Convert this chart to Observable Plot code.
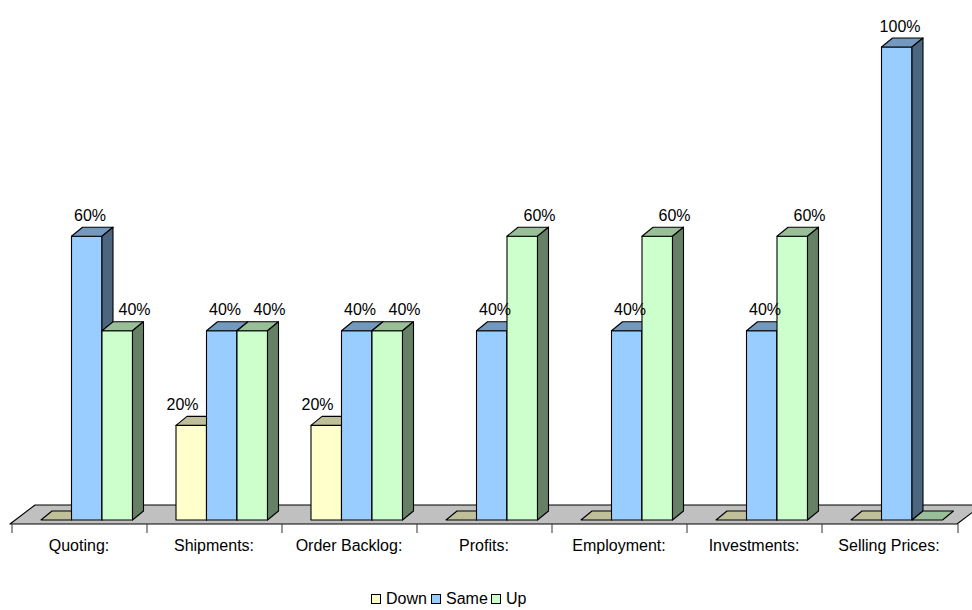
<!DOCTYPE html>
<html><head><meta charset="utf-8">
<script src="https://cdn.jsdelivr.net/npm/d3@7"></script>
<script src="https://cdn.jsdelivr.net/npm/@observablehq/plot@0.6"></script>
<style>
html,body{margin:0;padding:0;background:#fff;overflow:hidden;}
body{font-family:"Liberation Sans",Arial,sans-serif;width:972px;height:610px;}
#legend{display:flex;align-items:center;height:24px;margin-top:2px;padding-left:371px;font-size:16px;color:#000;}
#legend .item{display:flex;align-items:center;width:60px;}
#legend .sw{width:8px;height:8px;border:1px solid #000;margin-right:5px;}
</style></head><body>
<div id="chart"></div>
<div id="legend"></div>
<script>
// ---- data ----
const categories = ["Quoting:", "Shipments:", "Order Backlog:", "Profits:", "Employment:", "Investments:", "Selling Prices:"];
const series = ["Down", "Same", "Up"];
const downValues = [0, 20, 20, 0, 0, 0, 0];
const sameValues = [60, 40, 40, 40, 40, 40, 100];
const upValues = [40, 40, 40, 60, 60, 60, 0];

// ---- styles / layout ----
const colors = {
  Down: {front: "#FFFFCC", top: "#BFBF99", side: "#808066"},
  Same: {front: "#99CCFF", top: "#7399BF", side: "#4C6680"},
  Up:   {front: "#CCFFCC", top: "#99BF99", side: "#668066"}
};
const W = 972, H = 585, mL = 9, mR = 15, mT = 47, mB = 65;
const bandW = (W - mL - mR) / categories.length;
const groupOffset = 30, barW = 30.5, depthX = 11, depthY = -9;
const labelShift = {Down: -9, Same: 3, Up: 17};

const seriesValues = [downValues, sameValues, upValues];
const table = categories.flatMap((c, i) => series.map((s, j) => ({category: c, series: s, value: seriesValues[j][i]})));

function bars3d(index, scales) {
  const {x, y} = scales;
  const g = d3.create("svg:g")
    .attr("stroke", "#000").attr("stroke-width", 1.1).attr("stroke-linejoin", "round");
  const [x0, x1] = x.range();
  const yb = y(0);
  const pts = a => a.map(p => p.join(",")).join(" ");
  // floor
  g.append("polygon")
    .attr("points", pts([[x0 + 1, yb + 4], [x1, yb + 4], [x1 + 25, yb - 15], [x0 + 26, yb - 15]]))
    .attr("fill", "#C0C0C0");
  // ticks at band edges
  const edges = categories.map(c => x(c)).concat([x1]);
  for (const e of edges) {
    g.append("line").attr("x1", e + 1).attr("x2", e + 1).attr("y1", yb + 4).attr("y2", yb + 13)
      .attr("stroke", "#444");
  }
  for (const d of table) {
    const j = series.indexOf(d.series);
    const l = x(d.category) + groupOffset + j * barW;
    const r = l + barW;
    const t = y(d.value), b = y(0);
    const c = colors[d.series];
    if (d.value > 0) {
      g.append("rect").attr("x", l).attr("y", t).attr("width", barW).attr("height", b - t).attr("fill", c.front);
      g.append("polygon").attr("fill", c.top)
        .attr("points", pts([[l, t], [r, t], [r + depthX, t + depthY], [l + depthX, t + depthY]]));
      g.append("polygon").attr("fill", c.side)
        .attr("points", pts([[r, t], [r + depthX, t + depthY], [r + depthX, b + depthY], [r, b]]));
    } else {
      g.append("polygon").attr("fill", c.top)
        .attr("points", pts([[l, b], [r, b], [r + depthX, b + depthY], [l + depthX, b + depthY]]));
    }
  }
  return g.node();
}

const labelMarks = series.map((s, j) =>
  Plot.text(table.filter(d => d.series === s && d.value > 0), {
    x: "category", y: "value", text: d => d.value + "%",
    dx: groupOffset + (j + 0.5) * barW - bandW / 2 + labelShift[s], dy: -21,
    fontSize: 16, fill: "#000"
  })
);

const chart = Plot.plot({
  width: W, height: H,
  marginLeft: mL, marginRight: mR, marginTop: mT, marginBottom: mB,
  style: {fontFamily: "'Liberation Sans', Arial, sans-serif", fontSize: "16px", overflow: "hidden", background: "#fff", color: "#000"},
  x: {type: "band", domain: categories, padding: 0, label: null},
  y: {domain: [0, 100], axis: null},
  marks: [
    bars3d,
    ...labelMarks,
    Plot.axisX({tickSize: 0, tickPadding: 19, fontSize: 16, label: null})
  ]
});
document.getElementById("chart").appendChild(chart);

const legend = document.getElementById("legend");
for (const s of series) {
  const item = document.createElement("div");
  item.className = "item";
  const sw = document.createElement("span");
  sw.className = "sw";
  sw.style.background = colors[s].front;
  const tx = document.createElement("span");
  tx.textContent = s;
  item.appendChild(sw); item.appendChild(tx);
  legend.appendChild(item);
}
</script>
</body></html>
